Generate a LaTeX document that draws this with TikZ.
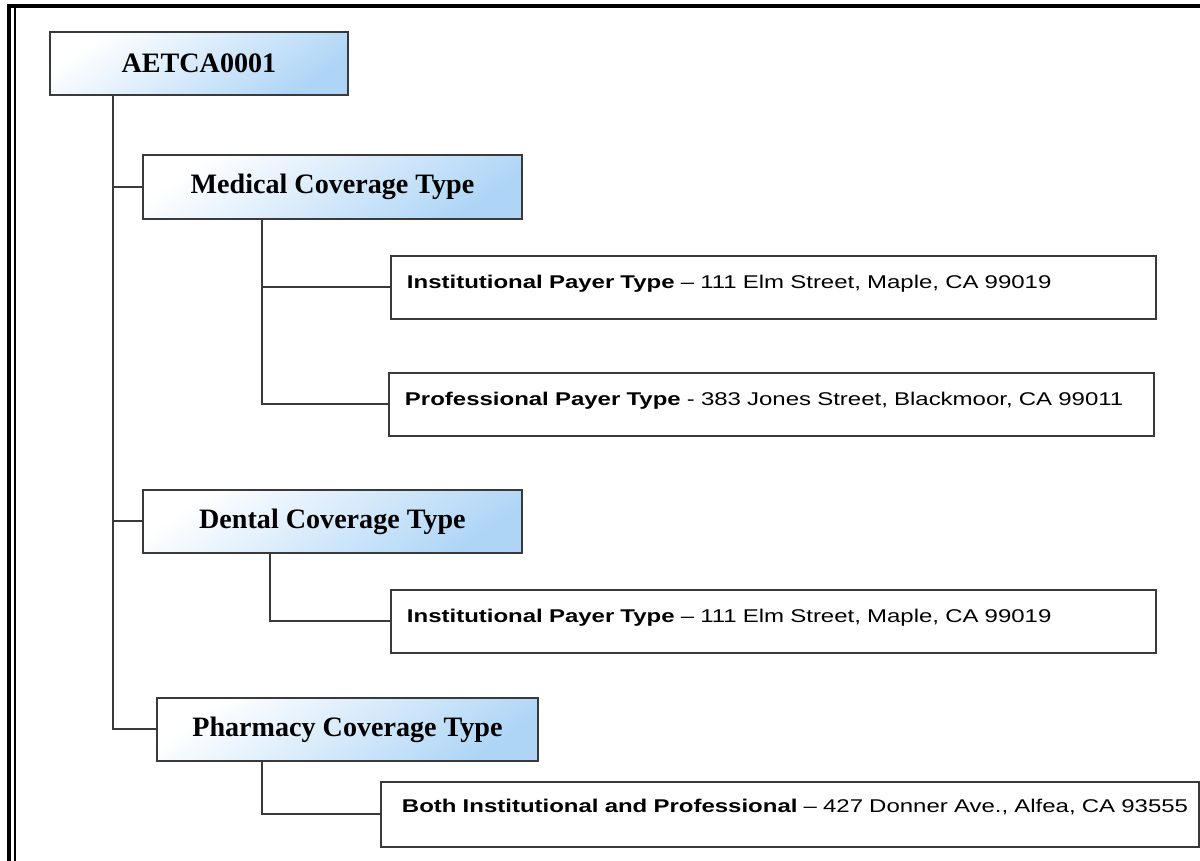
\documentclass[tikz,border=0pt]{standalone}
\usepackage{fontspec}
\setmainfont{Liberation Serif}
\newfontfamily\detailfont{Liberation Sans}[FakeStretch=1.3]
\definecolor{headblue}{HTML}{AED5F6}
\definecolor{edgegray}{HTML}{3A3A3A}
\tikzset{
        headbox/.style={draw=edgegray, line width=1.1pt, inner sep=0pt, anchor=north west,
                shading=axis, top color=white, bottom color=headblue, shading angle=35,
                font=\bfseries\fontsize{16}{18}\selectfont},
        detailbox/.style={draw=edgegray, line width=1.1pt, anchor=north west, fill=white,
                inner xsep=0.32cm, inner ysep=0pt, align=left,
                text height=0.66cm, text depth=0.6cm,
                font=\detailfont\fontsize{10.5}{12}\selectfont},
        link/.style={edgegray, line width=1.1pt}
}
\begin{document}
\begin{tikzpicture}[x=0.02cm, y=-0.02cm]
        \useasboundingbox (0,0) rectangle (1200,861);
        % outer frame
        \draw[line width=1.8pt] (9,861) -- (9,6) -- (1200,6);
        \draw[line width=1.1pt] (15,861) -- (15,8);

        % coverage heads
        \node[headbox, minimum width=5.96cm, minimum height=1.26cm] (root) at (49,31) {AETCA0001};
        \node[headbox, minimum width=7.58cm, minimum height=1.28cm] (med) at (142,154) {Medical Coverage Type};
        \node[headbox, minimum width=7.58cm, minimum height=1.26cm] (dent) at (142,489) {Dental Coverage Type};
        \node[headbox, minimum width=7.62cm, minimum height=1.26cm] (pharm) at (156,697) {Pharmacy Coverage Type};

        % payer types
        \node[detailbox, text width=14.66cm] (medinst) at (390,255)
                {\mbox{\textbf{Institutional Payer Type} – 111 Elm Street, Maple, CA 99019}};
        \node[detailbox, text width=14.66cm] (medprof) at (388,372)
                {\mbox{\textbf{Professional Payer Type} - 383 Jones Street, Blackmoor, CA 99011}};
        \node[detailbox, text width=14.66cm] (dentinst) at (390,589)
                {\mbox{\textbf{Institutional Payer Type} – 111 Elm Street, Maple, CA 99019}};
        \node[detailbox, text width=15.52cm, inner xsep=0.42cm, text height=0.62cm, text depth=0.68cm] (pharmboth) at (380,781)
                {\mbox{\textbf{Both Institutional and Professional} – 427 Donner Ave., Alfea, CA 93555}};

        % tree lines
        \foreach \n in {med, dent, pharm}
                \draw[link] ([xshift=1.28cm]root.south west) |- (\n.west);
        \foreach \n in {medinst, medprof}
                \draw[link] ([xshift=2.4cm]med.south west) |- (\n.west);
        \draw[link] ([xshift=2.56cm]dent.south west) |- (dentinst.west);
        \draw[link] ([xshift=2.12cm]pharm.south west) |- (pharmboth.west);
\end{tikzpicture}
\end{document}
